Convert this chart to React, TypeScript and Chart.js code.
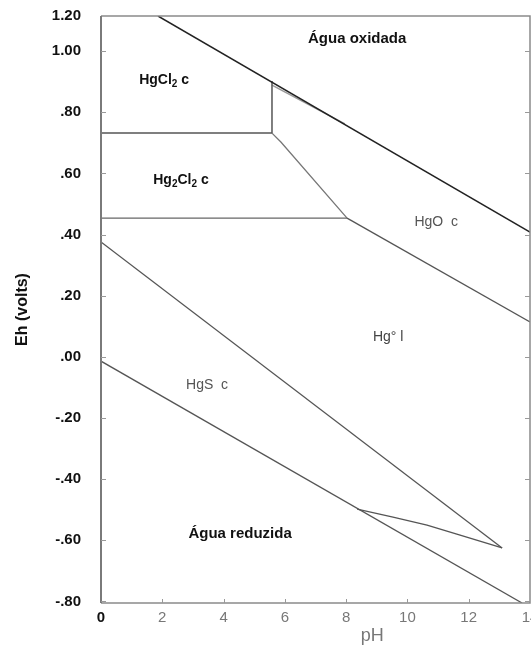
import { useEffect, useRef } from "react";
import { Chart, registerables } from "chart.js";

Chart.register(...registerables);

// Axis ticks
const phTicks = [0, 2, 4, 6, 8, 10, 12, 14];
const ehTicks = [-0.8, -0.6, -0.4, -0.2, 0, 0.2, 0.4, 0.6, 0.8, 1.0];
const ehMin = -0.805;
const ehMax = 1.115;
const ehTopLabel = "1.20";

// Boundary lines (pH, Eh)
const waterUpper = [
  { x: 1.86, y: 1.115 },
  { x: 14, y: 0.408 },
];
const waterLower = [
  { x: 0, y: -0.014 },
  { x: 13.74, y: -0.805 },
];
const hgcl2Hg2cl2 = [
  { x: 0, y: 0.732 },
  { x: 5.58, y: 0.732 },
];
const hgcl2Vertical = [
  { x: 5.58, y: 0.732 },
  { x: 5.58, y: 0.902 },
];
const hgcl2HgO = [
  { x: 5.58, y: 0.889 },
  { x: 7.96, y: 0.762 },
];
const hg2cl2Hg = [
  { x: 0, y: 0.454 },
  { x: 8.03, y: 0.454 },
];
const hg2cl2HgO = [
  { x: 5.58, y: 0.732 },
  { x: 5.87, y: 0.703 },
  { x: 8.03, y: 0.454 },
];
const hgoHg = [
  { x: 8.03, y: 0.454 },
  { x: 14, y: 0.114 },
];
const hgsHgUpper = [
  { x: 0, y: 0.376 },
  { x: 13.09, y: -0.625 },
];
const hgsHgLower = [
  { x: 8.36, y: -0.498 },
  { x: 9.53, y: -0.524 },
  { x: 10.64, y: -0.55 },
  { x: 11.72, y: -0.583 },
  { x: 13.09, y: -0.625 },
];

// Field labels: parts [text, isSubscript]
type Part = [string, boolean];
const fieldLabels: { parts: Part[]; x: number; y: number; bold: boolean; size: number; color: string }[] = [
  { parts: [["Água oxidada", false]], x: 8.36, y: 1.04, bold: true, size: 15, color: "#111" },
  { parts: [["HgCl", false], ["2", true], [" c", false]], x: 2.06, y: 0.906, bold: true, size: 14, color: "#111" },
  { parts: [["Hg", false], ["2", true], ["Cl", false], ["2", true], [" c", false]], x: 2.61, y: 0.579, bold: true, size: 14, color: "#111" },
  { parts: [["HgO  c", false]], x: 10.94, y: 0.441, bold: false, size: 14, color: "#555" },
  { parts: [["Hg° l", false]], x: 9.37, y: 0.065, bold: false, size: 14, color: "#444" },
  { parts: [["HgS  c", false]], x: 3.46, y: -0.092, bold: false, size: 14, color: "#555" },
  { parts: [["Água reduzida", false]], x: 4.54, y: -0.58, bold: true, size: 15, color: "#111" },
];
const xTitle = "pH";
const xTitlePos = 8.85;
const yTitle = "Eh (volts)";

const FONT = "'Liberation Sans', Arial, sans-serif";

function fmtEh(v: number): string {
  if (Math.abs(v - ehMax) < 1e-6) return ehTopLabel;
  const a = Math.abs(v).toFixed(2);
  const s = Math.abs(v) < 1 ? a.slice(1) : a;
  return (v < -1e-9 ? "-" : "") + s;
}

const decorPlugin = {
  id: "decor",
  afterDraw(chart: any) {
    const { ctx, chartArea } = chart;
    const xs = chart.scales.x;
    const ys = chart.scales.y;
    const { left, right, top, bottom } = chartArea;
    ctx.save();
    // frame
    ctx.strokeStyle = "#8a8a8a";
    ctx.lineWidth = 1.5;
    ctx.beginPath();
    ctx.moveTo(left, top);
    ctx.lineTo(right, top);
    ctx.lineTo(right, bottom);
    ctx.lineTo(left, bottom);
    ctx.stroke();
    ctx.strokeStyle = "#7a7a7a";
    ctx.lineWidth = 2;
    ctx.beginPath();
    ctx.moveTo(left, top);
    ctx.lineTo(left, bottom);
    ctx.stroke();
    // inward ticks
    ctx.strokeStyle = "#999";
    ctx.lineWidth = 1;
    ctx.beginPath();
    for (const v of ehTicks) {
      const py = Math.round(ys.getPixelForValue(v)) + 0.5;
      ctx.moveTo(left, py);
      ctx.lineTo(left + 5, py);
      ctx.moveTo(right, py);
      ctx.lineTo(right - 5, py);
    }
    for (const v of phTicks) {
      if (v === phTicks[0] || v === phTicks[phTicks.length - 1]) continue;
      const px = Math.round(xs.getPixelForValue(v)) + 0.5;
      ctx.moveTo(px, bottom);
      ctx.lineTo(px, bottom - 4);
    }
    ctx.stroke();

    // field labels
    ctx.textBaseline = "middle";
    ctx.textAlign = "left";
    for (const lab of fieldLabels) {
      const w = lab.bold ? "bold " : "";
      const main = `${w}${lab.size}px ${FONT}`;
      const sub = `${w}${Math.round(lab.size * 0.72)}px ${FONT}`;
      let total = 0;
      for (const [t, s] of lab.parts) {
        ctx.font = s ? sub : main;
        total += ctx.measureText(t).width;
      }
      let cx = xs.getPixelForValue(lab.x) - total / 2;
      const cy = ys.getPixelForValue(lab.y);
      ctx.fillStyle = lab.color;
      for (const [t, s] of lab.parts) {
        ctx.font = s ? sub : main;
        ctx.fillText(t, cx, s ? cy + 4 : cy);
        cx += ctx.measureText(t).width;
      }
    }

    // x title
    ctx.font = `18px ${FONT}`;
    ctx.fillStyle = "#777";
    ctx.textAlign = "center";
    ctx.fillText(xTitle, xs.getPixelForValue(xTitlePos), xs.bottom - 11);
    ctx.restore();
  },
};

export default function App() {
  const ref = useRef<HTMLCanvasElement | null>(null);

  useEffect(() => {
    document.body.style.margin = "0";
    document.body.style.overflow = "hidden";
    if (!ref.current) return;
    const lineDs = (data: any[], color: string, width: number) => ({
      data,
      borderColor: color,
      borderWidth: width,
      showLine: true,
      pointRadius: 0,
      fill: false,
      tension: 0,
    });
    const chart = new Chart(ref.current, {
      type: "scatter",
      data: {
        datasets: [
          lineDs(waterUpper, "#222", 1.5),
          lineDs(waterLower, "#555", 1.3),
          lineDs(hgcl2Hg2cl2, "#555", 1.5),
          lineDs(hgcl2Vertical, "#555", 1.5),
          lineDs(hgcl2HgO, "#999", 1.5),
          lineDs(hg2cl2Hg, "#666", 1.2),
          lineDs(hg2cl2HgO, "#777", 1.3),
          lineDs(hgoHg, "#555", 1.3),
          lineDs(hgsHgUpper, "#555", 1.3),
          lineDs(hgsHgLower, "#555", 1.3),
        ],
      },
      options: {
        animation: false,
        responsive: true,
        maintainAspectRatio: false,
        layout: { padding: { top: 16, right: 15, left: 0, bottom: 0 } },
        plugins: { legend: { display: false }, tooltip: { enabled: false } },
        scales: {
          x: {
            type: "linear",
            min: 0,
            max: 14,
            afterBuildTicks: (s: any) => {
              s.ticks = phTicks.map((v) => ({ value: v }));
            },
            afterFit: (s: any) => {
              s.height = 44;
              s.paddingLeft = 0;
              s.paddingRight = 0;
            },
            grid: { display: false },
            border: { display: false },
            ticks: {
              padding: -2,
              maxRotation: 0,
              autoSkip: false,
              color: (c: any) => (c.tick && c.tick.value === 0 ? "#111" : "#777"),
              font: (c: any) => ({
                family: FONT,
                size: 15,
                weight: c.tick && c.tick.value === 0 ? "bold" : "normal",
              }),
              callback: (v: any) => String(v),
            },
          },
          y: {
            type: "linear",
            min: ehMin,
            max: ehMax,
            afterBuildTicks: (s: any) => {
              s.ticks = [...ehTicks, ehMax].map((v) => ({ value: v }));
            },
            afterFit: (s: any) => {
              s.width = 101;
              s.paddingTop = 0;
              s.paddingBottom = 0;
            },
            grid: { display: false },
            border: { display: false },
            title: {
              display: true,
              text: yTitle,
              color: "#111",
              font: { family: FONT, size: 16, weight: "bold" },
              padding: { top: 13, bottom: 0 },
            },
            ticks: {
              padding: 12,
              autoSkip: false,
              color: "#111",
              font: { family: FONT, size: 15, weight: "bold" },
              callback: (v: any) => fmtEh(Number(v)),
            },
          },
        },
      },
      plugins: [decorPlugin],
    } as any);
    return () => chart.destroy();
  }, []);

  return (
    <div style={{ position: "absolute", left: 0, top: 0, width: 545, height: 647, background: "#fff" }}>
      <canvas ref={ref} />
    </div>
  );
}
